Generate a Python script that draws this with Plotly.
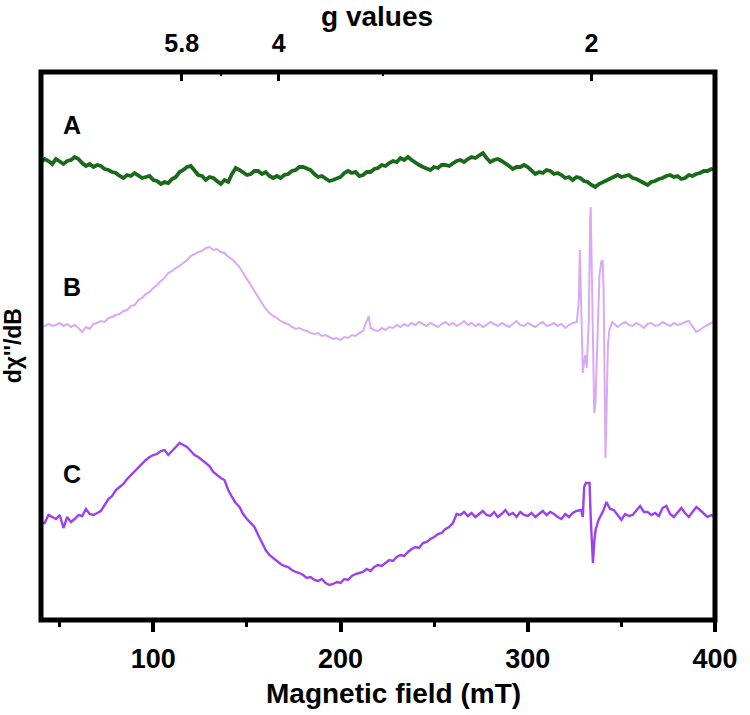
import plotly.graph_objects as go

# ---------------- data (arbitrary intensity units, field in mT) ----------------
field_A = [40 + 2 * i for i in range(181)]
int_A = [8, 11, 9, 6, 11, 8, 6, 9, 10, 13, 11, 7, 4, 6, 3, 5, 4, 1, 0, -2,
         -3, -6, -8, -5, -6, -3, -5, -8, -7, -6, -10, -11, -14, -12, -13, -9, -7, -2, 0, 3,
         4, 0, -5, -6, -10, -7, -8, -11, -14, -10, -12, -4, 2, 0, -2, -5, -4, -1, -1, -4,
         -2, -6, -8, -6, -8, -5, -4, -1, 0, 3, 3, 1, 0, -4, -7, -6, -9, -11, -10, -8,
         -7, -3, -1, -3, -2, -6, -5, -2, -2, 1, 2, 5, 4, 7, 9, 8, 12, 10, 13, 10,
         7, 5, 3, 1, 0, 3, 2, 5, 5, 4, 7, 9, 10, 8, 11, 13, 12, 14, 17, 12,
         8, 10, 11, 9, 7, 4, 1, 3, 3, 5, 3, 0, -4, -2, -3, 0, -1, -4, -3, -5,
         -8, -7, -10, -7, -8, -11, -12, -15, -17, -14, -12, -10, -9, -6, -5, -7, -6, -5, -8, -9,
         -11, -13, -15, -12, -11, -9, -8, -6, -5, -7, -6, -9, -8, -5, -6, -4, -3, -1, -1, 1,
         0]

field_B = [40, 42, 44, 46, 48, 50, 52, 54, 56, 58, 60, 62, 64, 66, 68, 70, 72, 74, 76, 78,
           80, 82, 84, 86, 88, 90, 92, 94, 96, 98, 100, 102, 104, 106, 108, 110, 112, 114, 116, 118,
           120, 122, 124, 126, 128, 130, 132, 134, 136, 138, 140, 142, 144, 146, 148, 150, 152, 154, 156, 158,
           160, 162, 164, 166, 168, 170, 172, 174, 176, 178, 180, 182, 184, 186, 188, 190, 192, 194, 196, 198,
           200, 202, 204, 206, 208, 210, 212, 214, 215, 216, 218, 220, 222, 224, 226, 228, 230, 232, 234, 236,
           238, 240, 242, 244, 246, 248, 250, 252, 254, 256, 258, 260, 262, 264, 266, 268, 270, 272, 274, 276,
           278, 280, 282, 284, 286, 288, 290, 292, 294, 296, 298, 300, 302, 304, 306, 308, 310, 312, 314, 316,
           318, 320, 322, 324, 326.2, 327.3, 327.8, 328.4, 329.4, 329.9, 330.7, 331.5, 332.6, 333.3, 333.6, 334.1,
           334.9, 335.5, 336.2, 337.3, 338.3, 339.2, 340.0, 340.5, 341.0, 341.5, 342.0, 342.8, 343.6, 345.2,
           348, 350, 352, 354, 356, 358, 360, 362, 364, 366, 368, 370, 372, 374, 376, 378, 380, 382, 384, 386,
           388, 390, 392, 394, 396, 398, 400]
int_B = [-2, -1, 1, -1, 0, 2, -1, 1, -2, 0, -3, -7, -2, -4, 1, 2, 4, 3, 7, 8,
         10, 11, 14, 15, 19, 20, 25, 27, 31, 33, 37, 40, 44, 47, 52, 54, 57, 59, 62, 65,
         69, 71, 73, 74, 77, 78, 75, 76, 73, 72, 68, 66, 62, 58, 52, 46, 40, 34, 28, 22,
         16, 12, 9, 7, 4, 2, 1, -2, -4, -3, -5, -6, -8, -9, -8, -11, -10, -12, -14, -13,
         -15, -12, -13, -10, -11, -8, -6, 4, 9, -3, -5, -6, -3, -5, -2, -3, 0, -2, 1, -1,
         2, 0, 3, 1, -1, 2, 0, -2, 1, 3, 0, 2, -1, 1, 4, 0, 2, -1, 1, -2,
         0, 3, 1, -1, 2, 0, -2, 1, 4, 0, -1, 2, 0, -2, 1, 3, -1, 0, 2, -1,
         1, -3, 0, 2, 3, 25, 75, 35, -48, -40, -30, -43, 5, 105, 118, 65,
         -55, -88, -75, -15, 50, 63, 65, 35, -75, -133, -95, -20, -5, 3,
         -2, 1, 3, 0, -1, 2, 0, -3, 1, 2, -1, 0, 3, 1, -1, 2, 0, 1, 3, 4,
         -1, -7, -5, -2, 0, 2, 4]

field_C = [40, 42, 44, 46, 48, 50, 52, 54, 56, 58, 60, 62, 64, 66, 68, 70, 72, 74, 76, 78,
           80, 82, 84, 86, 88, 90, 92, 94, 96, 98, 100, 102, 104, 106, 108, 110, 112, 114, 116, 118,
           120, 122, 124, 126, 128, 130, 132, 134, 136, 138, 140, 142, 144, 146, 148, 150, 152, 154, 156, 158,
           160, 162, 164, 166, 168, 170, 172, 174, 176, 178, 180, 182, 184, 186, 188, 190, 192, 194, 196, 198,
           200, 202, 204, 206, 208, 210, 212, 214, 216, 218, 220, 222, 224, 226, 228, 230, 232, 234, 236, 238,
           240, 242, 244, 246, 248, 250, 252, 254, 256, 258, 260, 262, 264, 266, 268, 270, 272, 274, 276, 278,
           280, 282, 284, 286, 288, 290, 292, 294, 296, 298, 300, 302, 304, 306, 308, 310, 312, 314, 316, 318,
           320, 322, 324, 326, 327.5, 328.5, 329.4, 330.1, 331, 333, 333.6, 334.4, 334.8, 335.5, 336.2, 337.8,
           340.5, 342, 344, 346, 348, 350, 352, 354, 356, 358, 360, 362, 364, 366, 368, 370, 372, 374, 376, 378,
           380, 382, 384, 386, 388, 390, 392, 394, 396, 398, 400]
int_C = [-6, -6, 2, 0, -2, 2, -11, 0, -5, -2, 2, 1, 8, 3, 2, 4, 6, 12, 18, 21,
         27, 30, 33, 38, 42, 46, 50, 53, 57, 60, 62, 63, 66, 67, 62, 66, 70, 74, 72, 70,
         66, 62, 60, 57, 54, 51, 45, 42, 39, 37, 27, 20, 14, 10, 3, -2, -6, -10, -18, -26,
         -33, -38, -41, -44, -47, -49, -50, -53, -55, -56, -58, -61, -60, -63, -64, -62, -66, -68, -67, -65,
         -66, -62, -63, -59, -57, -56, -55, -52, -54, -50, -48, -49, -46, -43, -44, -40, -38, -39, -35, -32,
         -30, -31, -26, -25, -22, -20, -17, -16, -12, -10, -6, 3, 2, 5, 1, 4, 0, 3, 6, 2,
         1, 5, 0, 3, 7, 2, 4, 0, 5, 2, 1, 4, 0, 3, 6, 2, 5, 3, 0, -2,
         3, 0, 4, 6, 7, 7, 0, 30, 34, 34, 0, -35, -46, -25, -13, -3,
         7, 15, 8, 7, 2, -3, 3, 1, 2, 7, 11, 5, 5, 2, 4, 1, 9, 11, 3, 0,
         5, 9, 4, 0, 5, 10, 7, 3, 0, 2, 0]

labels = ["A", "B", "C"]
offsets = [176, 21, -171]           # vertical stacking offsets (arb. units)
colors = ["#1b6a1b", "#dba9f3", "#9c41f1"]
widths = [3.8, 2.0, 2.4]

x_ticks = [100, 200, 300, 400]
x_minor = [50, 150, 250, 350]
g_labels = ["5.8", "4", "2"]
g_major = [5.8, 4.0, 2.0]
g_minor = [4.9, 3.0]
B_at_g2 = 334.0                     # resonance field for g = 2 (mT)

FONT = "Liberation Sans, Arial, sans-serif"

fig = go.Figure()
for fx, fy, off, col, w in zip([field_A, field_B, field_C], [int_A, int_B, int_C],
                               offsets, colors, widths):
    fig.add_trace(go.Scatter(x=fx, y=[v + off for v in fy], mode="lines",
                             line=dict(color=col, width=w), showlegend=False,
                             xaxis="x", yaxis="y"))

# invisible trace on the top (g) axis so it renders
fig.add_trace(go.Scatter(x=[40, 400], y=[0, 0], mode="lines", line=dict(width=0),
                         showlegend=False, hoverinfo="skip", xaxis="x2", yaxis="y"))

g_vals = [2 * B_at_g2 / g for g in g_major]
g_minor_vals = [2 * B_at_g2 / g for g in g_minor]

fig.update_layout(
    width=750, height=715,
    margin=dict(l=41, r=27, t=72, b=95),
    paper_bgcolor="white", plot_bgcolor="white",
    xaxis=dict(range=[40, 400], tickmode="array", tickvals=x_ticks,
               ticktext=[str(t) for t in x_ticks],
               ticks="outside", ticklen=11, tickwidth=3.5, tickcolor="black",
               minor=dict(tickvals=x_minor, ticks="outside", ticklen=6, tickwidth=3,
                          tickcolor="black", showgrid=False),
               showgrid=False, zeroline=False, showline=False,
               tickfont=dict(family=FONT, size=27, color="black", weight="bold"),
               ticklabelstandoff=4),
    xaxis2=dict(range=[40, 400], overlaying="x", side="top", tickmode="array",
                tickvals=g_vals, ticktext=g_labels,
                ticks="inside", ticklen=9, tickwidth=2.5, tickcolor="black",
                minor=dict(tickvals=g_minor_vals, ticks="inside", ticklen=4, tickwidth=2,
                           tickcolor="black", showgrid=False),
                showgrid=False, zeroline=False, showline=False,
                tickfont=dict(family=FONT, size=25, color="black", weight="bold"),
                ticklabelstandoff=14),
    yaxis=dict(range=[-274, 274], showticklabels=False, ticks="", showgrid=False,
               zeroline=False, showline=False),
    shapes=[dict(type="rect", xref="paper", yref="paper", x0=0, x1=1, y0=0, y1=1,
                 line=dict(color="black", width=5), layer="above")],
)

annotations = [
    dict(text="Magnetic field (mT)", x=(398 - 41) / 682, y=-(693 - 620) / 548,
         xref="paper", yref="paper",
         xanchor="center", yanchor="middle", showarrow=False,
         font=dict(family=FONT, size=28, color="black", weight="bold")),
    dict(text="g values", x=(381 - 41) / 682, y=1 + (72 - 17) / 548, xref="paper", yref="paper",
         xanchor="center", yanchor="middle", showarrow=False,
         font=dict(family=FONT, size=28, color="black", weight="bold")),
    dict(text="d\u03c7''/dB", x=-(41 - 13) / 682, y=0.5, xref="paper", yref="paper",
         xanchor="center", yanchor="middle", showarrow=False, textangle=-90,
         font=dict(family=FONT, size=23, color="black", weight="bold")),
]
label_y_px = [125, 287, 474]
for lab, ly in zip(labels, label_y_px):
    annotations.append(dict(text=lab, x=(72 - 41) / 682, y=(620 - ly) / 548,
                            xref="paper", yref="paper", xanchor="center", yanchor="middle",
                            showarrow=False,
                            font=dict(family=FONT, size=25, color="black", weight="bold")))
fig.update_layout(annotations=annotations)

fig.write_html("out.html")
